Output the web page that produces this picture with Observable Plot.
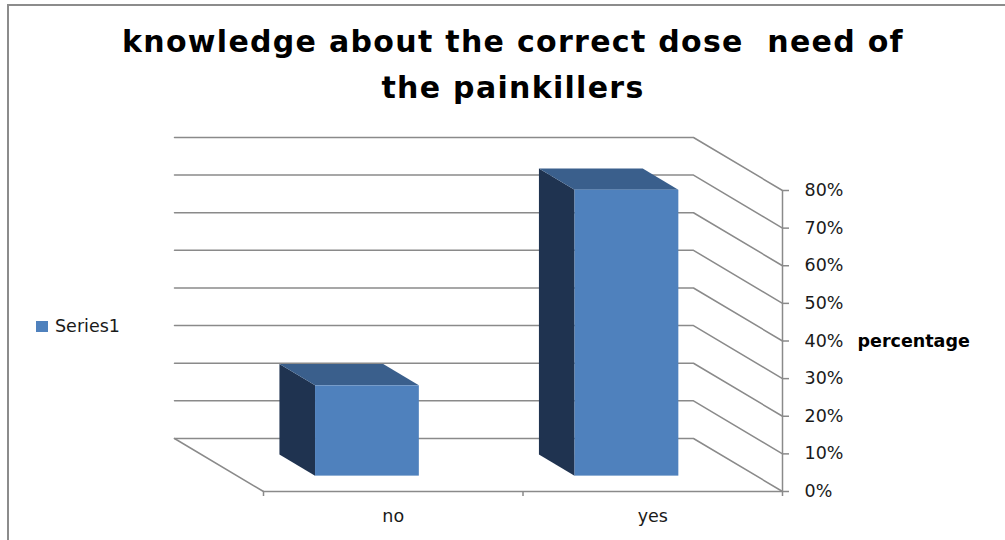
<!DOCTYPE html>
<html><head><meta charset="utf-8">
<script src="https://cdn.jsdelivr.net/npm/d3@7"></script>
<script src="https://cdn.jsdelivr.net/npm/@observablehq/plot@0.6"></script>
<style>
html,body{margin:0;padding:0;background:#fff;}
#wrap{position:relative;width:1005px;height:540px;overflow:hidden;font-family:"DejaVu Sans",sans-serif;}
#frame{position:absolute;left:7px;top:4px;right:-5px;bottom:-5px;border-top:2px solid #8c8c8c;border-left:2px solid #8c8c8c;}
#title{position:absolute;left:0;top:19px;width:1026px;text-align:center;font-weight:bold;font-size:30px;letter-spacing:1.3px;line-height:46px;white-space:pre;color:#000;}
#legend-key{position:absolute;left:36px;top:321px;width:12px;height:11px;background:#4F81BD;}
#legend-text{position:absolute;left:55px;top:316px;font-size:17.5px;line-height:20px;color:#1a1a1a;}
#chart{position:absolute;left:0;top:0;}
</style></head>
<body>
<div id="wrap">
  <div id="frame"></div>
  <div id="chart"></div>
  <div id="title"></div>
  <div id="legend-key"></div>
  <div id="legend-text"></div>
</div>
<script>
// ---- data ----
const titleLines = ["knowledge about the correct dose  need of", "the painkillers"];
const categories = ["no", "yes"];
const percentages = [24, 76];
const yTicks = [0, 10, 20, 30, 40, 50, 60, 70, 80];
const seriesName = "Series1";
const axisTitle = "percentage";

// ---- 3D projection constants (data units) ----
const DX = 0.343;   // depth shift in category units (towards left)
const DY = 14.09;   // depth shift in percent units (upwards)
const F0 = 0.29;    // bar front depth fraction
const F1 = 0.69;    // bar back depth fraction
const BW = 0.40;    // bar width in category units
const N = categories.length;

const colFront = "#4F81BD", colSide = "#1F3350", colTop = "#3A5F8C", gridCol = "#8a8a8a";

document.getElementById("title").textContent = titleLines.join("\n");
document.getElementById("legend-text").textContent = seriesName;

// back wall + side wall gridlines
const grid = yTicks.flatMap(v => [
  {v, x: -DX, y: v + DY},
  {v, x: N - DX, y: v + DY},
  {v, x: N, y: v}
]);
const floorLeft = [{x: -DX, y: DY}, {x: 0, y: 0}];

const bars = categories.map((c, i) => ({c, i, v: percentages[i], xl: i + 0.5 - BW / 2, xr: i + 0.5 + BW / 2}));
const sideFaces = bars.flatMap(b => [F0, F1].map(f => ({c: b.c, x: b.xl - f * DX, y1: f * DY, y2: b.v + f * DY})));
const topFaces = bars.flatMap(b => [F0, F1].map(f => ({c: b.c, y: b.v + f * DY, x1: b.xl - f * DX, x2: b.xr - f * DX})));
const frontFaces = bars.map(b => ({c: b.c, x1: b.xl - F0 * DX, x2: b.xr - F0 * DX, y1: F0 * DY, y2: b.v + F0 * DY}));

const chart = Plot.plot({
  width: 1005, height: 540,
  marginLeft: 263, marginRight: 223, marginTop: 190, marginBottom: 49,
  x: {type: "linear", domain: [0, N]},
  y: {domain: [0, 80]},
  style: {fontFamily: "DejaVu Sans", fontSize: "17.5px", color: "#1a1a1a", background: "transparent", overflow: "visible"},
  marks: [
    Plot.line(grid, {x: "x", y: "y", z: "v", stroke: gridCol, strokeWidth: 1.5, curve: "linear"}),
    Plot.line(floorLeft, {x: "x", y: "y", stroke: gridCol, strokeWidth: 1.5}),
    Plot.ruleY([0], {x1: 0, x2: N, stroke: gridCol, strokeWidth: 1.5}),
    Plot.ruleX([N], {y1: 0, y2: 80, stroke: gridCol, strokeWidth: 1.5}),
    Plot.axisY({anchor: "right", ticks: yTicks, tickSize: 6, tickPadding: 16, tickFormat: d => d + "%", stroke: gridCol, strokeWidth: 1.5, fill: "#1a1a1a", label: null}),
    Plot.axisX({ticks: d3.range(N + 1), tickSize: 5, tickFormat: () => "", stroke: gridCol, strokeWidth: 1.5, label: null}),
    Plot.axisX({ticks: categories.map((c, i) => i + 0.5), tickSize: 0, tickPadding: 18, tickFormat: d => categories[Math.floor(d)], fill: "#1a1a1a", label: null}),
    Plot.areaY(sideFaces, {x: "x", y1: "y1", y2: "y2", z: "c", fill: colSide, curve: "linear"}),
    Plot.areaX(topFaces, {y: "y", x1: "x1", x2: "x2", z: "c", fill: colTop, curve: "linear"}),
    Plot.rect(frontFaces, {x1: "x1", x2: "x2", y1: "y1", y2: "y2", fill: colFront}),
    Plot.text([axisTitle], {frameAnchor: "right", dx: 75, textAnchor: "start", fontWeight: "bold", fontSize: 17.5, fill: "#000"})
  ]
});
document.getElementById("chart").appendChild(chart);
</script>
</body></html>
